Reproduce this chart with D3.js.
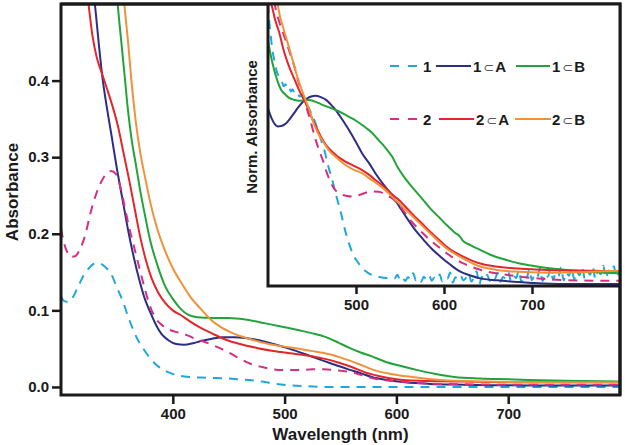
<!DOCTYPE html>
<html><head><meta charset="utf-8">
<script src="https://cdn.jsdelivr.net/npm/d3@7"></script>
<style>
body{margin:0;background:#fff}
svg{display:block}
text{font-family:"Liberation Sans",Arial,Helvetica,sans-serif;font-weight:bold;fill:#1a1a1a}
</style>
</head><body>
<svg id="c" width="625" height="445"></svg>
<script>
// ---------------- DATA ----------------
const seriesNames = ["1", "1\u2282A", "1\u2282B", "2", "2\u2282A", "2\u2282B"];

// Main panel: [wavelength nm, absorbance]
const main_1 = [[300,0.118],[303,0.112],[307,0.111],[311,0.118],[315,0.130],[320,0.145],[325,0.155],[330,0.161],[335,0.161],[340,0.156],[345,0.147],[350,0.130],[355,0.113],[360,0.092],[365,0.073],[370,0.058],[375,0.047],[380,0.037],[386,0.028],[392,0.022],[398,0.018],[405,0.015],[415,0.013],[430,0.012],[450,0.011],[468,0.009],[480,0.007],[492,0.004],[505,0.002],[520,0.001],[540,0.0],[800,0.0]];
const main_1A = [[328,0.53],[331,0.49],[334,0.445],[337,0.405],[341,0.365],[345,0.33],[350,0.285],[355,0.245],[360,0.205],[365,0.17],[370,0.14],[375,0.115],[380,0.097],[385,0.081],[390,0.069],[396,0.061],[403,0.056],[410,0.055],[418,0.057],[425,0.060],[435,0.063],[445,0.065],[455,0.065],[465,0.064],[477,0.061],[490,0.056],[504,0.050],[518,0.043],[533,0.035],[545,0.029],[557,0.023],[568,0.018],[578,0.013],[592,0.009],[608,0.006],[630,0.004],[660,0.003],[720,0.002],[800,0.002]];
const main_1B = [[349,0.53],[351,0.495],[354,0.45],[357,0.405],[360,0.36],[363,0.325],[367,0.29],[371,0.255],[375,0.225],[380,0.19],[386,0.16],[393,0.132],[400,0.115],[407,0.102],[414,0.094],[422,0.091],[435,0.090],[450,0.090],[465,0.088],[483,0.083],[500,0.078],[513,0.074],[525,0.070],[537,0.065],[548,0.058],[558,0.051],[568,0.045],[578,0.040],[590,0.033],[605,0.027],[619,0.022],[635,0.017],[652,0.013],[675,0.011],[700,0.010],[750,0.008],[800,0.007]];
const main_2 = [[300,0.207],[302,0.192],[305,0.178],[309,0.170],[313,0.171],[317,0.180],[322,0.200],[326,0.225],[331,0.250],[336,0.268],[341,0.279],[345,0.282],[349,0.278],[353,0.262],[357,0.235],[361,0.208],[365,0.185],[370,0.156],[375,0.128],[380,0.104],[385,0.089],[391,0.080],[398,0.074],[405,0.071],[412,0.068],[420,0.063],[430,0.058],[440,0.052],[450,0.045],[460,0.037],[470,0.030],[480,0.026],[490,0.023],[500,0.022],[513,0.022],[525,0.023],[535,0.023],[545,0.022],[557,0.020],[568,0.016],[580,0.011],[595,0.008],[610,0.006],[640,0.004],[700,0.003],[800,0.003]];
const main_2A = [[322,0.53],[325,0.495],[328,0.46],[332,0.43],[336,0.412],[341,0.39],[346,0.367],[351,0.34],[356,0.305],[361,0.27],[366,0.232],[371,0.195],[376,0.165],[381,0.142],[387,0.123],[393,0.11],[400,0.100],[408,0.093],[416,0.085],[425,0.077],[435,0.070],[447,0.062],[460,0.056],[475,0.051],[490,0.047],[505,0.044],[520,0.041],[535,0.037],[548,0.032],[560,0.026],[572,0.019],[585,0.014],[600,0.010],[620,0.008],[660,0.007],[720,0.006],[800,0.006]];
const main_2B = [[355,0.53],[357,0.495],[360,0.45],[363,0.40],[367,0.345],[371,0.305],[375,0.275],[380,0.24],[386,0.207],[393,0.178],[400,0.155],[408,0.135],[416,0.117],[425,0.102],[433,0.089],[443,0.078],[454,0.070],[468,0.063],[483,0.057],[498,0.053],[513,0.050],[528,0.046],[542,0.042],[555,0.036],[568,0.029],[580,0.022],[595,0.017],[614,0.013],[640,0.009],[680,0.007],[740,0.006],[800,0.006]];

// Inset: normalized absorbance [wavelength nm, norm. value]
const inset_1_head = [[400,1.0],[401,0.955],[403,0.89],[405,0.837],[408,0.79],[410,0.76],[412,0.745],[414,0.73],[416,0.722],[418,0.708],[420,0.715],[422,0.70],[424,0.705],[426,0.69],[428,0.698],[430,0.684],[433,0.688],[436,0.672],[439,0.676],[442,0.652],[445,0.64],[448,0.62],[454,0.577],[459,0.53],[464,0.482],[468,0.43],[473,0.376],[478,0.315],[483,0.258],[487,0.205],[492,0.151],[497,0.11],[503,0.08],[510,0.055],[518,0.039],[528,0.031],[536,0.028],[541,0.027]];
const inset_1_tailStart = 544, inset_1_tailStep = 3;
const inset_1_tail = [0.027,0.040,0.022,0.030,0.018,0.031,0.024,0.045,0.020,0.028,0.015,0.033,0.025,0.038,0.019,0.029,0.023,0.041,0.017,0.030,0.026,0.048,0.012,0.031,0.024,0.036,0.020,0.029,0.044,0.016,0.030,0.052,0.005,0.033,0.022,0.040,0.018,0.034,0.026,0.047,0.015,0.032,0.027,0.050,0.019,0.036,0.028,0.055,0.014,0.038,0.030,0.058,0.020,0.040,0.031,0.062,0.018,0.044,0.033,0.060,0.022,0.046,0.035,0.066,0.020,0.048,0.036,0.064,0.024,0.050,0.038,0.070,0.026,0.052,0.040,0.068,0.025,0.054,0.042,0.072,0.028,0.055,0.044,0.070,0.030,0.050];
const inset_1A = [[400,0.63],[404,0.595],[407,0.577],[411,0.566],[415,0.567],[420,0.575],[424,0.589],[430,0.615],[435,0.636],[440,0.654],[445,0.666],[450,0.673],[454,0.675],[460,0.670],[466,0.660],[471,0.645],[477,0.624],[484,0.592],[492,0.553],[500,0.51],[507,0.47],[515,0.435],[522,0.40],[530,0.365],[542,0.317],[550,0.278],[558,0.240],[567,0.200],[577,0.163],[586,0.132],[596,0.104],[607,0.076],[618,0.052],[630,0.037],[641,0.027],[660,0.020],[679,0.015],[700,0.011],[736,0.007],[800,0.007]];
const inset_1B = [[400,0.87],[403,0.82],[407,0.766],[411,0.725],[415,0.695],[420,0.678],[424,0.667],[430,0.660],[435,0.657],[440,0.658],[445,0.660],[449,0.659],[455,0.652],[460,0.645],[468,0.635],[477,0.624],[485,0.612],[492,0.600],[500,0.586],[507,0.571],[513,0.557],[519,0.541],[524,0.523],[530,0.503],[536,0.480],[541,0.459],[547,0.423],[555,0.385],[565,0.346],[575,0.31],[584,0.276],[594,0.245],[603,0.216],[612,0.19],[619,0.172],[621,0.162],[630,0.145],[641,0.128],[655,0.108],[671,0.092],[686,0.080],[702,0.071],[720,0.063],[740,0.057],[770,0.050],[800,0.045]];
const inset_2 = [[407,1.01],[409,0.979],[414,0.925],[420,0.872],[425,0.825],[430,0.778],[434,0.73],[439,0.683],[444,0.63],[449,0.577],[453,0.53],[458,0.482],[463,0.44],[467,0.400],[471,0.37],[475,0.346],[480,0.330],[485,0.323],[490,0.319],[496,0.317],[503,0.322],[511,0.331],[519,0.335],[526,0.334],[533,0.325],[541,0.311],[548,0.29],[556,0.258],[565,0.222],[575,0.19],[584,0.163],[594,0.138],[603,0.116],[612,0.097],[622,0.080],[635,0.064],[649,0.051],[668,0.041],[687,0.033],[710,0.026],[736,0.021],[770,0.019],[800,0.019]];
const inset_2A = [[402,1.01],[404,0.996],[408,0.945],[413,0.896],[417,0.845],[422,0.795],[427,0.755],[432,0.719],[436,0.69],[441,0.66],[446,0.625],[450,0.595],[455,0.562],[460,0.530],[466,0.500],[473,0.476],[480,0.457],[488,0.441],[497,0.427],[507,0.411],[515,0.394],[522,0.376],[528,0.362],[535,0.343],[541,0.325],[547,0.310],[556,0.282],[565,0.252],[575,0.222],[584,0.193],[594,0.165],[603,0.139],[612,0.12],[622,0.104],[631,0.091],[641,0.080],[655,0.071],[679,0.063],[700,0.059],[717,0.057],[750,0.055],[800,0.053]];
const inset_2B = [[409,1.01],[411,0.996],[414,0.95],[418,0.908],[423,0.855],[428,0.801],[432,0.755],[437,0.707],[442,0.665],[447,0.624],[451,0.585],[456,0.547],[463,0.51],[469,0.482],[478,0.455],[488,0.429],[497,0.413],[507,0.400],[516,0.38],[526,0.358],[534,0.338],[541,0.317],[550,0.29],[565,0.245],[584,0.187],[603,0.133],[622,0.097],[641,0.069],[660,0.057],[679,0.051],[717,0.047],[760,0.050],[800,0.054]];

const mainXTicks = [400, 500, 600, 700];
const mainYTicks = [0.0, 0.1, 0.2, 0.3, 0.4];
const insetXTicks = [500, 600, 700];
const xTitle = "Wavelength (nm)";
const yTitle = "Absorbance";
const insetYTitle = "Norm. Absorbance";

// ---------------- STYLE ----------------
const colors = ["#1fa6df", "#2b2e83", "#22a33b", "#d62e82", "#e3262a", "#f0923b"];
const dashed = [true, false, false, true, false, false];

const inset_1 = inset_1_head.concat(inset_1_tail.map((v, i) => [inset_1_tailStart + i * inset_1_tailStep, v]));
const mainData = [main_1, main_1A, main_1B, main_2, main_2A, main_2B];
const insetData = [inset_1, inset_1A, inset_1B, inset_2, inset_2A, inset_2B];

// ---------------- LAYOUT ----------------
const svg = d3.select("#c");
const M = {l: 61, t: 4, r: 620, b: 395};
const I = {l: 268, t: 4, r: 620, b: 286};

const x = d3.scaleLinear().domain([300, 800]).range([M.l, M.r]);
const y = d3.scaleLinear().domain([-0.0105, 0.5]).range([M.b, M.t]);
const xi = d3.scaleLinear().domain([400, 800]).range([I.l, I.r]);
const yi = d3.scaleLinear().domain([0, 1]).range([I.b, I.t]);

const defs = svg.append("defs");
defs.append("clipPath").attr("id", "clipMain").append("rect")
  .attr("x", M.l).attr("y", M.t).attr("width", M.r - M.l).attr("height", M.b - M.t);
defs.append("clipPath").attr("id", "clipInset").append("rect")
  .attr("x", I.l).attr("y", I.t).attr("width", I.r - I.l).attr("height", I.b - I.t);

// main curves
const lineMain = d3.line().x(d => x(d[0])).y(d => y(d[1])).curve(d3.curveMonotoneX);
const gMain = svg.append("g").attr("clip-path", "url(#clipMain)");
mainData.forEach((data, i) => {
  gMain.append("path").datum(data).attr("d", lineMain)
    .attr("fill", "none").attr("stroke", colors[i]).attr("stroke-width", 2)
    .attr("stroke-dasharray", dashed[i] ? "9,7" : null);
});

// main axes
const axL = svg.append("g").attr("transform", `translate(${M.l},0)`)
  .call(d3.axisLeft(y).tickValues(mainYTicks).tickFormat(d3.format(".1f")).tickSize(9).tickPadding(3));
const axB = svg.append("g").attr("transform", `translate(0,${M.b})`)
  .call(d3.axisBottom(x).tickValues(mainXTicks).tickFormat(d3.format("d")).tickSize(9).tickPadding(4));
[axL, axB].forEach(g => {
  g.select(".domain").remove();
  g.selectAll(".tick line").attr("stroke", "#1a1a1a").attr("stroke-width", 2.5);
  g.selectAll(".tick text").style("font-size", "15px").attr("fill", "#1a1a1a");
});

// main frame
svg.append("rect").attr("x", M.l).attr("y", M.t).attr("width", M.r - M.l).attr("height", M.b - M.t)
  .attr("fill", "none").attr("stroke", "#1a1a1a").attr("stroke-width", 3);

// inset background
svg.append("rect").attr("x", I.l).attr("y", I.t).attr("width", I.r - I.l).attr("height", I.b - I.t)
  .attr("fill", "#fff");

const lineInset = d3.line().x(d => xi(d[0])).y(d => yi(d[1])).curve(d3.curveMonotoneX);
const gIn = svg.append("g").attr("clip-path", "url(#clipInset)");
insetData.forEach((data, i) => {
  gIn.append("path").datum(data).attr("d", lineInset)
    .attr("fill", "none").attr("stroke", colors[i]).attr("stroke-width", 2)
    .attr("stroke-dasharray", dashed[i] ? "9,7" : null);
});

// inset axis
const axI = svg.append("g").attr("transform", `translate(0,${I.b})`)
  .call(d3.axisBottom(xi).tickValues(insetXTicks).tickFormat(d3.format("d")).tickSize(8).tickPadding(5));
axI.select(".domain").remove();
axI.selectAll(".tick line").attr("stroke", "#1a1a1a").attr("stroke-width", 2.5);
axI.selectAll(".tick text").style("font-size", "15px").attr("fill", "#1a1a1a");

// inset frame (left + bottom) and redraw main top/right
svg.append("path").attr("d", `M${I.l},${I.t}V${I.b}H${I.r}`)
  .attr("fill", "none").attr("stroke", "#1a1a1a").attr("stroke-width", 3);
svg.append("path").attr("d", `M${M.l},${M.t}H${M.r}V${M.b}`)
  .attr("fill", "none").attr("stroke", "#1a1a1a").attr("stroke-width", 3);

// titles
svg.append("text").attr("x", (M.l + M.r) / 2).attr("y", 440).attr("text-anchor", "middle")
  .style("font-size", "17px").text(xTitle);
svg.append("text").attr("transform", "translate(18,192) rotate(-90)").attr("text-anchor", "middle")
  .style("font-size", "17px").text(yTitle);
svg.append("text").attr("transform", "translate(257,127) rotate(-90)").attr("text-anchor", "middle")
  .style("font-size", "15px").text(insetYTitle);

// legend
const legendPos = [
  {x0: 390, x1: 418, tx: 423, y: 66},
  {x0: 436, x1: 471, tx: 473, y: 66},
  {x0: 516, x1: 550, tx: 552, y: 66},
  {x0: 390, x1: 418, tx: 423, y: 119},
  {x0: 439, x1: 474, tx: 476, y: 119},
  {x0: 515, x1: 551, tx: 552, y: 119}
];
seriesNames.forEach((name, i) => {
  const p = legendPos[i];
  svg.append("line").attr("x1", p.x0).attr("x2", p.x1).attr("y1", p.y).attr("y2", p.y)
    .attr("stroke", colors[i]).attr("stroke-width", 2)
    .attr("stroke-dasharray", dashed[i] ? "9,9" : null);
  const t = svg.append("text").attr("x", p.tx).attr("y", p.y + 5.5).style("font-size", "15px");
  const parts = name.split("\u2282");
  t.append("tspan").text(parts[0]);
  if (parts.length > 1) {
    t.append("tspan").text("\u2282").attr("dx", 2)
      .style("font-family", "'DejaVu Sans',sans-serif").style("font-weight", "normal")
      .style("font-size", "13px").attr("fill", "#555");
    t.append("tspan").text(parts[1]).attr("dx", 1);
  }
});
</script>
</body></html>
